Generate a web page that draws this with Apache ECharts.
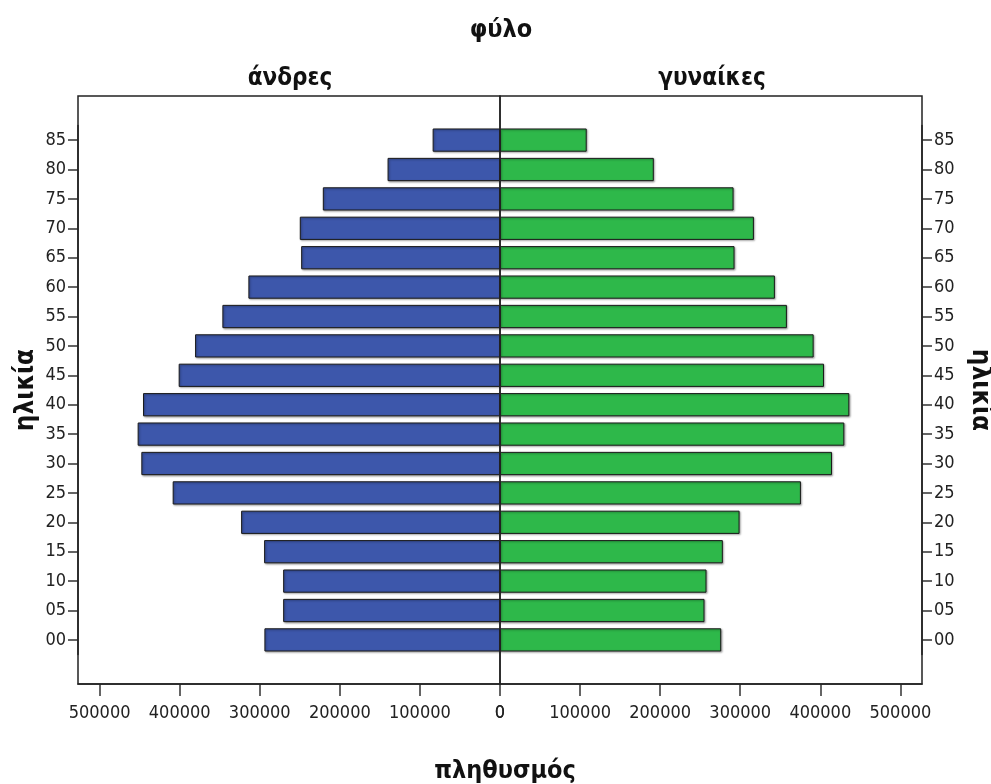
<!DOCTYPE html>
<html><head><meta charset="utf-8">
<script src="https://cdn.jsdelivr.net/npm/echarts@6/dist/echarts.min.js"></script>
<style>html,body{margin:0;padding:0;background:#fff}#c{width:991px;height:784px}</style>
</head><body><div id="c"></div>
<script>
const ages = ['00','05','10','15','20','25','30','35','40','45','50','55','60','65','70','75','80','85'];
const men = [294200,270800,270800,294600,323300,408750,447900,452500,445800,401250,380800,346700,314200,248300,250000,221250,140400,84100];
const women = [276250,255400,257900,278300,299200,375800,414600,430000,436250,404600,391700,358300,343300,292900,317100,291700,192100,108300];
const xTicks = [0,100000,200000,300000,400000,500000];
const xMax = 527000;

const LF = "'DejaVu Sans Condensed',sans-serif";
const TF = "'DejaVu Sans Condensed','DejaVu Sans',sans-serif";
const axCol = '#222';
// frame: top 96, bottom edge 684 (100 from bottom); bar grids inset by one band
const band = 588 / 20;
const inset = band;

const chart = echarts.init(document.getElementById('c'), null, {renderer:'canvas'});
const barStyle = c => ({color:c, borderColor:'#1a1a1a', borderWidth:1, shadowColor:'rgba(0,0,0,0.35)', shadowBlur:2, shadowOffsetX:1, shadowOffsetY:1});
const xAx = (gi, inv) => ({
  type:'value', gridIndex:gi, inverse:inv, min:0, max:xMax, offset:inset,
  axisLine:{show:true, onZero:false, lineStyle:{color:axCol, width:1.5}},
  axisTick:{show:true, length:12, customValues:xTicks, lineStyle:{color:'#333', width:1.5}},
  axisLabel:{customValues:xTicks, margin:20, fontFamily:LF, fontSize:18, color:'#222', formatter:v=>String(v)},
  splitLine:{show:false}
});
const yAx = (gi, pos, rot, gap) => ({
  type:'category', gridIndex:gi, position:pos, data:ages,
  axisLine:{show:true, onZero:false, lineStyle:{color:axCol, width:1.5}},
  axisTick:{show:true, length:10, alignWithLabel:true, interval:0, lineStyle:{color:'#333', width:1.5}},
  axisLabel:{interval:0, margin:12, fontFamily:LF, fontSize:18, color:'#222'},
  name:'ηλικία', nameLocation:'middle', nameRotate:rot, nameGap:gap,
  nameTextStyle:{fontFamily:TF, fontWeight:'bold', fontSize:26, color:'#111'}
});
const hidden = (type, gi) => ({type:type, gridIndex:gi, show:false, min:0, max:1});
const frameGrid = (l, r) => ({left:l, right:r, top:96, bottom:100, show:true, borderColor:axCol, borderWidth:1.5, outerBoundsMode:'none', containLabel:false, z:3});
chart.setOption({
  animation:false,
  backgroundColor:'#fff',
  grid:[
    {left:78, right:491, top:96+inset, bottom:100+inset, outerBoundsMode:'none', containLabel:false},
    {left:500, right:69, top:96+inset, bottom:100+inset, outerBoundsMode:'none', containLabel:false},
    frameGrid(78, 491),
    frameGrid(500, 69)
  ],
  xAxis:[xAx(0,true), xAx(1,false), hidden('value',2), hidden('value',3)],
  yAxis:[yAx(0,'left',90,39), yAx(1,'right',-90,45), hidden('value',2), hidden('value',3)],
  graphic:[
    {type:'text', x:501, y:18, style:{text:'φύλο', textAlign:'center', font:"bold 25px "+TF, fill:'#111'}},
    {type:'text', x:290, y:67, style:{text:'άνδρες', textAlign:'center', font:"bold 24px "+TF, fill:'#111'}},
    {type:'text', x:712, y:67, style:{text:'γυναίκες', textAlign:'center', font:"bold 24px "+TF, fill:'#111'}},
    {type:'text', x:505, y:759, style:{text:'πληθυσμός', textAlign:'center', font:"bold 25px "+TF, fill:'#111'}}
  ],
  series:[
    {type:'bar', name:'άνδρες', xAxisIndex:0, yAxisIndex:0, data:men, barCategoryGap:'21%', itemStyle:barStyle('#3d57ab')},
    {type:'bar', name:'γυναίκες', xAxisIndex:1, yAxisIndex:1, data:women, barCategoryGap:'21%', itemStyle:barStyle('#2eb84a')}
  ]
});
</script></body></html>
